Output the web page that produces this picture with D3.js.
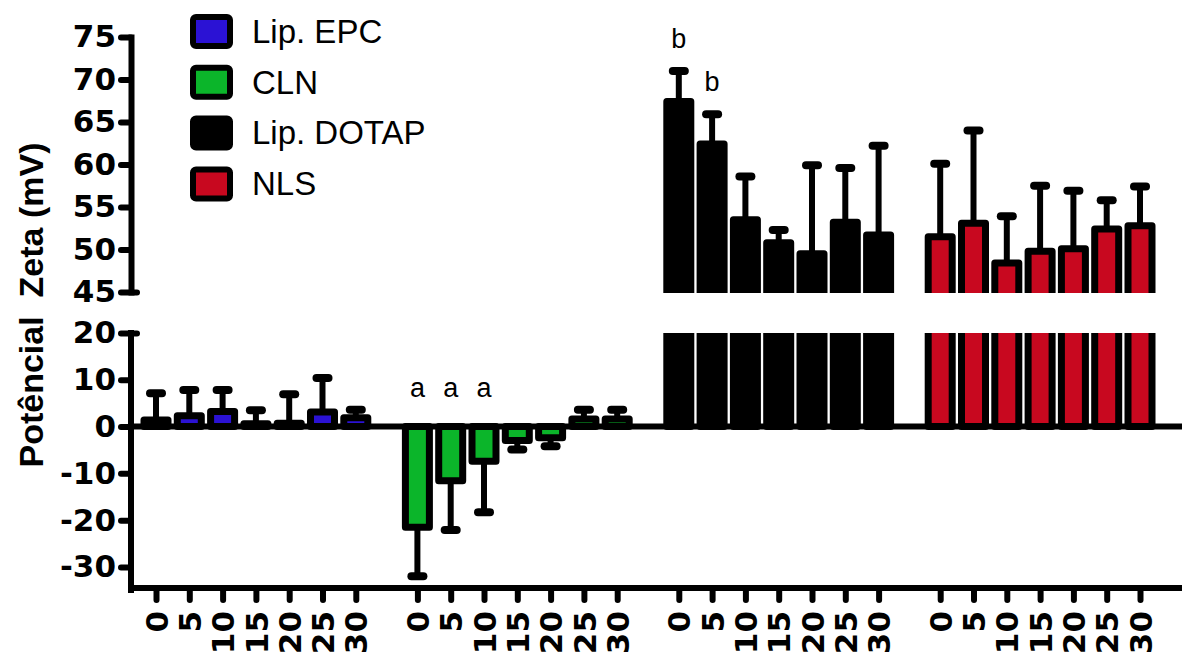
<!DOCTYPE html>
<html>
<head>
<meta charset="utf-8">
<script src="https://cdn.jsdelivr.net/npm/d3@7"></script>
<style>
body{margin:0;background:#fff;}
</style>
</head>
<body>
<div id="chart"></div>
<script>
// groups and time points
var groups = ["Lip. EPC", "CLN", "Lip. DOTAP", "NLS"];
var colors = ["#2b12d4", "#0bb52a", "#000000", "#c8081f"];
var times = ["0", "5", "10", "15", "20", "25", "30"];

// mean and error (mV)
var epcMean = [1.4, 2.3, 3.2, 0.6, 0.7, 3.1, 1.9];
var epcErr = [5.7, 5.5, 4.6, 2.9, 6.2, 7.3, 1.7];
var clnMean = [-21.5, -11.6, -7.4, -3.0, -2.4, 1.6, 1.6];
var clnErr = [10.5, 10.5, 10.9, 1.9, 1.8, 2.0, 2.0];
var dotapMean = [67.4, 62.4, 53.5, 50.8, 49.5, 53.2, 51.7];
var dotapErr = [3.6, 3.5, 5.1, 1.5, 10.4, 6.4, 10.5];
var nlsMean = [51.5, 53.1, 48.4, 49.8, 50.1, 52.4, 52.8];
var nlsErr = [8.6, 10.9, 5.5, 7.7, 6.8, 3.4, 4.6];

// significance letters
var annotText = ["a", "a", "a", "b", "b"];
var annotGroup = [1, 1, 1, 2, 2];
var annotIndex = [0, 1, 2, 0, 1];

var means = [epcMean, clnMean, dotapMean, nlsMean];
var errs = [epcErr, clnErr, dotapErr, nlsErr];
var groupStep = 7.85;

var rows = [];
for (var g = 0; g < groups.length; g++){
    for (var i = 0; i < times.length; i++){
        rows.push({g: g, i: i, slot: g*groupStep + i, m: means[g][i], e: errs[g][i]});
    }
}

var width = 1182;
var height = 652;
var axisX = 131;

var svg = d3.select("#chart").append("svg")
    .attr("width", width)
    .attr("height", height);

var x = d3.scaleLinear().domain([0, 3*groupStep + 6]).range([156, 1140]);
var yTop = d3.scaleLinear().domain([45, 75]).range([292, 37]);
var yBot = d3.scaleLinear().domain([-34.5, 20]).range([588, 333]);

var defs = svg.append("defs");
defs.append("clipPath").attr("id", "clipTop").append("rect")
    .attr("x", axisX).attr("y", 0).attr("width", width - axisX).attr("height", 293);
defs.append("clipPath").attr("id", "clipBot").append("rect")
    .attr("x", axisX).attr("y", 333).attr("width", width - axisX).attr("height", 255);

var drawPanel = function(y, clipId){
    var p = svg.append("g").attr("clip-path", "url(#" + clipId + ")");

    //error bars
    p.selectAll(".err").data(rows).enter().append("line")
        .attr("x1", d => x(d.slot)).attr("x2", d => x(d.slot))
        .attr("y1", d => y(d.m))
        .attr("y2", d => y(d.m < 0 ? d.m - d.e : d.m + d.e))
        .attr("stroke", "#000").attr("stroke-width", 6);

    p.selectAll(".cap").data(rows).enter().append("line")
        .attr("x1", d => x(d.slot) - 6).attr("x2", d => x(d.slot) + 6)
        .attr("y1", d => y(d.m < 0 ? d.m - d.e : d.m + d.e))
        .attr("y2", d => y(d.m < 0 ? d.m - d.e : d.m + d.e))
        .attr("stroke", "#000").attr("stroke-width", 8)
        .attr("stroke-linecap", "round");

    //bars
    p.selectAll(".bar").data(rows).enter().append("rect")
        .attr("x", d => x(d.slot) - 12)
        .attr("width", 24)
        .attr("y", d => y(Math.max(0, d.m)))
        .attr("height", d => Math.abs(y(d.m) - y(0)))
        .attr("fill", d => colors[d.g])
        .attr("stroke", "#000")
        .attr("stroke-width", 7)
        .attr("stroke-linejoin", "round");
}

drawPanel(yTop, "clipTop");
drawPanel(yBot, "clipBot");

// zero line and bottom line
svg.append("line")
    .attr("x1", axisX).attr("x2", width)
    .attr("y1", yBot(0)).attr("y2", yBot(0))
    .attr("stroke", "#000").attr("stroke-width", 6);

svg.append("line")
    .attr("x1", axisX - 3).attr("x2", width)
    .attr("y1", 588).attr("y2", 588)
    .attr("stroke", "#000").attr("stroke-width", 6);

var styleAxis = function(sel){
    sel.select(".domain").attr("stroke-width", 6).attr("stroke-linecap", "square");
    sel.selectAll(".tick line").attr("stroke-width", 6).attr("stroke-linecap", "round");
    sel.selectAll(".tick text")
        .style("font-family", "'DejaVu Sans', sans-serif")
        .style("font-weight", "bold")
        .style("font-size", "31px")
        .attr("fill", "#000");
}

var axTop = svg.append("g")
    .attr("transform", "translate(" + axisX + ",0)")
    .call(d3.axisLeft(yTop).tickValues([45, 50, 55, 60, 65, 70, 75])
        .tickSize(10).tickSizeOuter(0).tickPadding(5).tickFormat(d => String(d)));
styleAxis(axTop);
axTop.selectAll(".tick").filter(d => d == 45).select("line").attr("x1", 6);

var axBot = svg.append("g")
    .attr("transform", "translate(" + axisX + ",0)")
    .call(d3.axisLeft(yBot).tickValues([-30, -20, -10, 0, 10, 20])
        .tickSize(10).tickSizeOuter(0).tickPadding(5).tickFormat(d => String(d)));
styleAxis(axBot);
axBot.select(".domain").attr("d", "M0," + yBot(20) + "V590");
axBot.selectAll(".tick").filter(d => d == 20).select("line").attr("x1", 6);

var axX = svg.append("g")
    .attr("transform", "translate(0,588)")
    .call(d3.axisBottom(x).tickValues(rows.map(d => d.slot))
        .tickSize(12).tickSizeOuter(0).tickFormat((d, i) => times[i % times.length]));
styleAxis(axX);
axX.select(".domain").remove();
axX.selectAll(".tick text")
    .attr("transform", "rotate(-90)")
    .attr("x", -23).attr("y", 0).attr("dy", "0.36em")
    .attr("text-anchor", "end");

// y title
svg.append("text")
    .attr("transform", "translate(43,305) rotate(-90)")
    .attr("text-anchor", "middle")
    .style("white-space", "pre")
    .style("font-family", "'Liberation Sans', Arial, sans-serif")
    .style("font-weight", "bold")
    .style("font-size", "34px")
    .text("Potêncial  Zeta (mV)");

// letters
svg.selectAll(".annot").data(annotText).enter().append("text")
    .attr("x", (d, k) => x(annotGroup[k]*groupStep + annotIndex[k]))
    .attr("y", function(d, k){
        var m = means[annotGroup[k]][annotIndex[k]];
        var e = errs[annotGroup[k]][annotIndex[k]];
        if (m < 0) return yBot(0) - 30;
        return yTop(m + e) - 23;
    })
    .attr("text-anchor", "middle")
    .style("font-family", "'Liberation Sans', Arial, sans-serif")
    .style("font-size", "27px")
    .text(d => d);

// legend
svg.selectAll(".legRect").data(groups).enter().append("rect")
    .attr("x", 193)
    .attr("y", (d, k) => 17 + k*50.8)
    .attr("width", 37).attr("height", 29)
    .attr("rx", 3)
    .attr("fill", (d, k) => colors[k])
    .attr("stroke", "#000").attr("stroke-width", 6);

svg.selectAll(".legText").data(groups).enter().append("text")
    .attr("x", 252)
    .attr("y", (d, k) => 43 + k*50.6)
    .style("font-family", "'Liberation Sans', Arial, sans-serif")
    .style("font-size", "33px")
    .text(d => d);
</script>
</body>
</html>
